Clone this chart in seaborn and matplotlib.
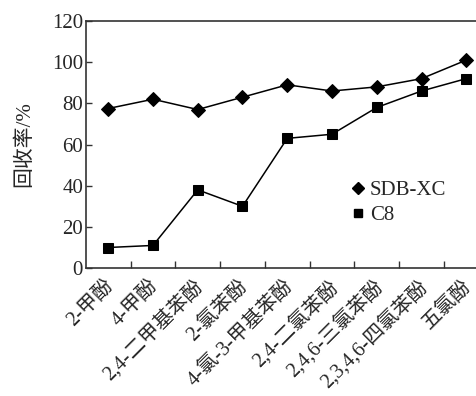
import numpy as np
import pandas as pd
import matplotlib
matplotlib.use("Agg")
import matplotlib.pyplot as plt
from matplotlib.lines import Line2D
import matplotlib.transforms as mtransforms
import seaborn as sns

categories = ["2-甲酚", "4-甲酚", "2,4-二甲基苯酚", "2-氯苯酚", "4-氯-3-甲基苯酚",
              "2,4-二氯苯酚", "2,4,6-三氯苯酚", "2,3,4,6-四氯苯酚", "五氯酚"]
sdb_xc = [77.5, 82, 77, 83, 89, 86, 88, 92, 101]
c8 = [10, 11, 38, 30, 63, 65, 78, 86, 92]
series_names = ["SDB-XC", "C8"]
y_ticks = [0, 20, 40, 60, 80, 100, 120]

sns.set_theme(style="ticks")
plt.rcParams['font.family'] = ['Liberation Serif', 'Noto Sans CJK SC']
plt.rcParams['axes.unicode_minus'] = False

df = pd.DataFrame({
    "pos": list(range(len(categories))) * 2,
    "value": sdb_xc + c8,
    "series": [series_names[0]] * len(categories) + [series_names[1]] * len(categories),
})

fig = plt.figure(figsize=(4.77, 3.96), dpi=100)
ax = fig.add_axes([0.180, 0.323, 0.835, 0.624])

markers = {"SDB-XC": "D", "C8": "s"}
sizes = {"SDB-XC": 7.5, "C8": 6.5}
for name in series_names:
    sub = df[df["series"] == name]
    sns.lineplot(data=sub, x="pos", y="value", ax=ax, color="black", lw=1.1,
                 marker=markers[name], markersize=sizes[name], markeredgecolor="black",
                 markerfacecolor="black", legend=False)

ax.set_xlim(-0.5, 8.4)
ax.set_ylim(0, 120)
ax.set_yticks(y_ticks)
ax.set_xticks(range(len(categories)))
ax.set_xticklabels(categories, rotation=45, ha="right", rotation_mode="anchor", fontsize=14.5)
ax.set_xticks(np.arange(0.5, len(categories) - 1, 1.0), minor=True)
ax.tick_params(axis="x", which="major", length=0, pad=6)
ax.tick_params(axis="x", which="minor", direction="in", length=5, width=1, color="#333333")
ax.tick_params(axis="y", direction="in", length=4, width=1, labelsize=15, pad=2, color="#333333")
ax.set_xlabel("")
ax.set_ylabel("回收率/%", fontsize=15, labelpad=13)

for s in ["left", "top", "bottom"]:
    ax.spines[s].set_color("#333333")
    ax.spines[s].set_linewidth(1.2)
ax.spines["right"].set_visible(False)

handles = [Line2D([], [], color="black", marker="D", markersize=6.5, linestyle="none"),
           Line2D([], [], color="black", marker="s", markersize=5.5, linestyle="none")]
ax.legend(handles, series_names, loc="upper left", bbox_to_anchor=(0.635, 0.395),
          frameon=False, fontsize=15, handlelength=0.8, handletextpad=0.2,
          labelspacing=0.25, borderpad=0)

# small horizontal nudge of the category labels (applied last so it is kept)
offset = mtransforms.ScaledTranslation(-4 / 100, 0, fig.dpi_scale_trans)
for lab in ax.get_xticklabels():
    lab.set_transform(lab.get_transform() + offset)

fig.savefig("out.png", dpi=100)
